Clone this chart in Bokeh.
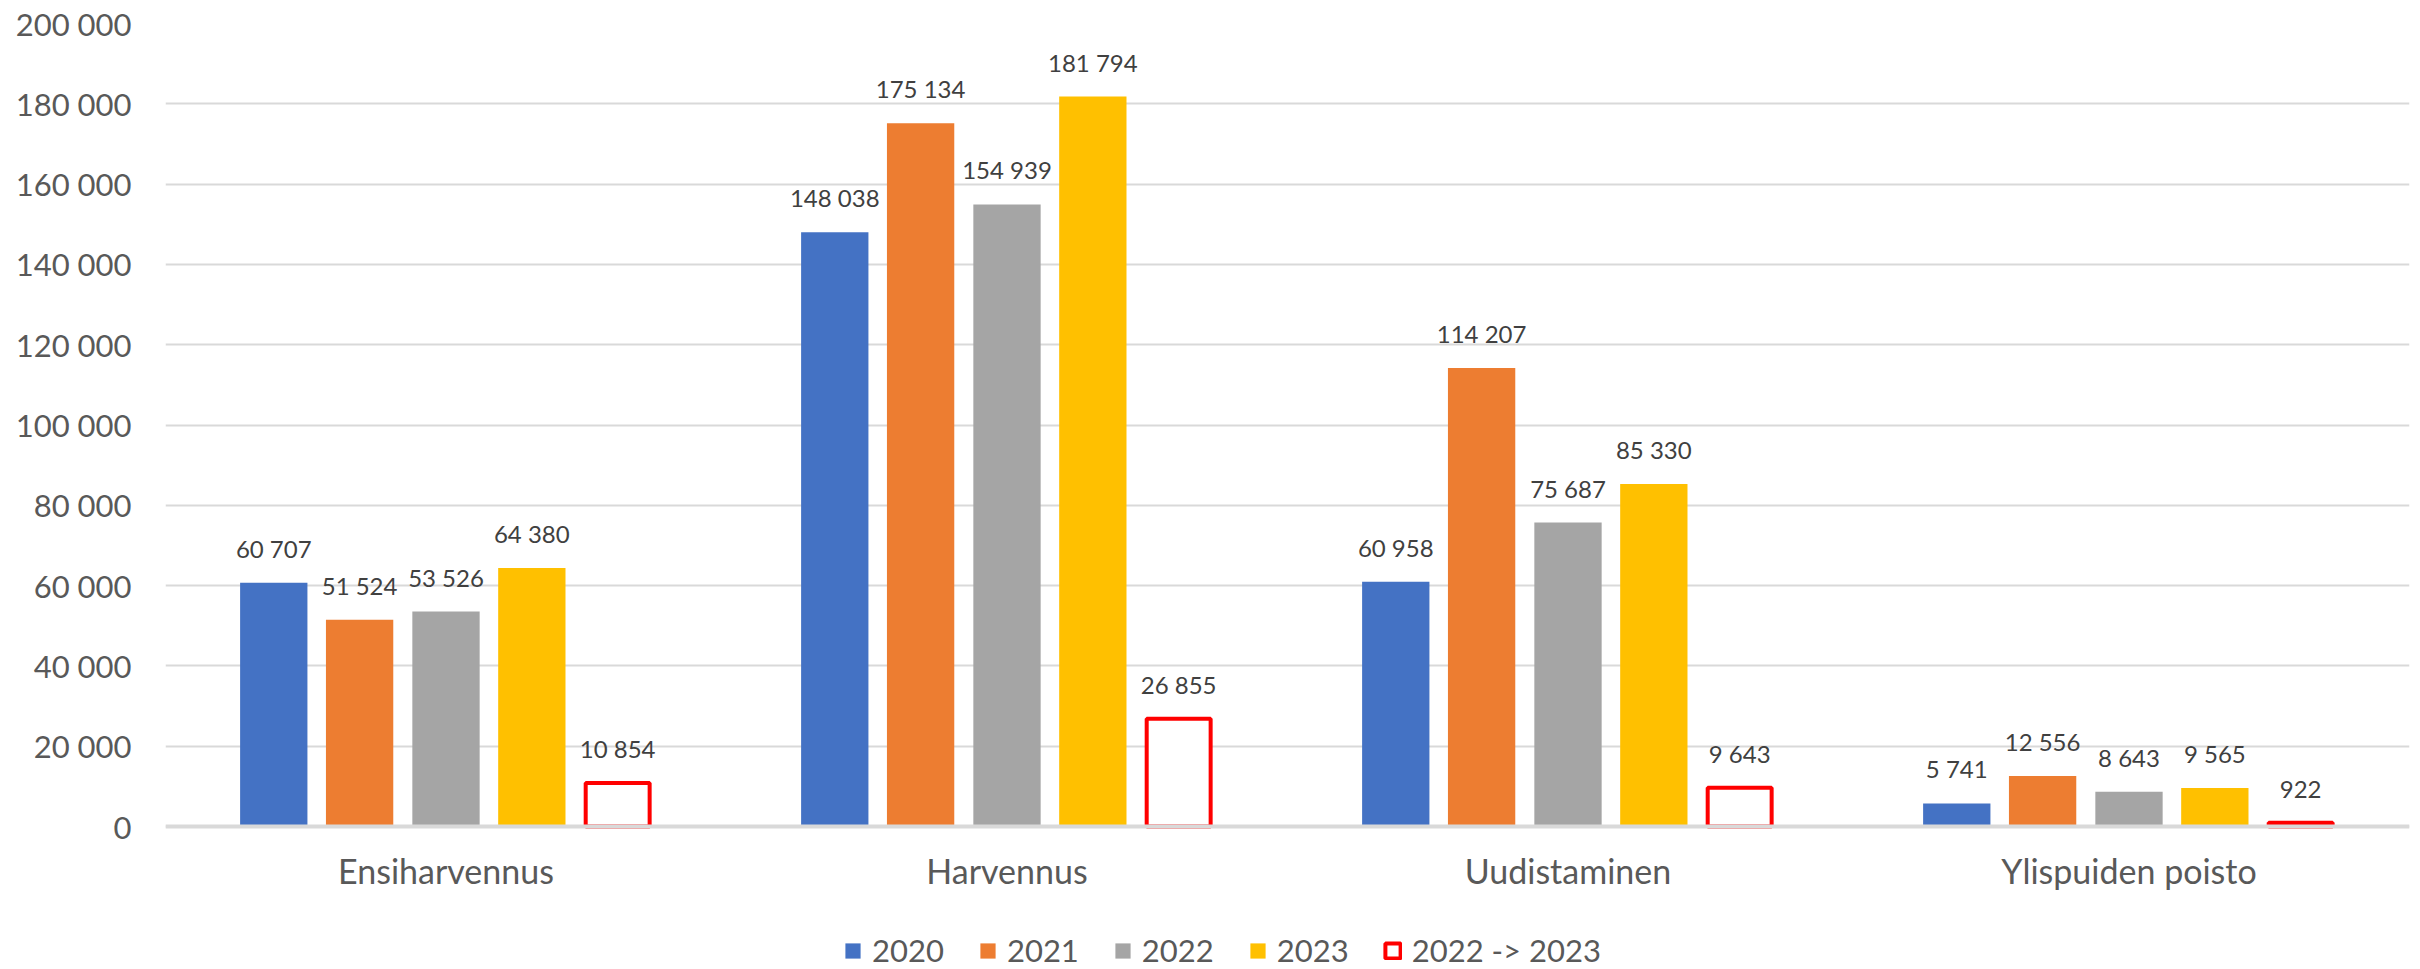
from bokeh.plotting import figure
from bokeh.models import ColumnDataSource, FactorRange, Range1d, FixedTicker, CustomJSTickFormatter, LabelSet, Legend, LegendItem, Span
from bokeh.transform import dodge
from bokeh.core.properties import value
from bokeh.embed import file_html
from bokeh.resources import INLINE

categories = ["Ensiharvennus", "Harvennus", "Uudistaminen", "Ylispuiden poisto"]
v2020 = [60707, 148038, 60958, 5741]
v2021 = [51524, 175134, 114207, 12556]
v2022 = [53526, 154939, 75687, 8643]
v2023 = [64380, 181794, 85330, 9565]
vdiff = [10854, 26855, 9643, 922]
series_names = ["2020", "2021", "2022", "2023", "2022 -> 2023"]
y_ticks = [0, 20000, 40000, 60000, 80000, 100000, 120000, 140000, 160000, 180000, 200000]
y_max = 200000

FONT = "Lato"

W, H = 2420, 969
TOP = 23          # frame top (px)
ZERO = 826        # pixel row of value 0
frame_h = H - TOP
y_start = -y_max * (frame_h - (ZERO - TOP)) / (ZERO - TOP)

p = figure(x_range=FactorRange(*categories, range_padding=0), y_range=Range1d(y_start, y_max),
           width=W, height=H, output_backend="svg", toolbar_location=None,
           min_border_left=165, min_border_right=11, min_border_top=TOP, min_border_bottom=0)
p.outline_line_color = None
p.background_fill_color = "white"
p.border_fill_color = "white"

p.xgrid.grid_line_color = None
p.ygrid.grid_line_color = "#d9d9d9"
p.ygrid.grid_line_width = 2
p.xaxis.visible = False

p.yaxis.ticker = FixedTicker(ticks=y_ticks)
p.yaxis.formatter = CustomJSTickFormatter(code=r"return tick.toString().replace(/\B(?=(\d{3})+(?!\d))/g, ' ');")
p.yaxis.axis_line_color = None
p.yaxis.major_tick_line_color = None
p.yaxis.minor_tick_line_color = None
p.yaxis.major_tick_in = 0
p.yaxis.major_tick_out = 0
p.yaxis.major_label_standoff = 34
p.yaxis.major_label_text_font = FONT
p.yaxis.major_label_text_font_size = "31px"
p.yaxis.major_label_text_color = "#595959"

def fmt(v):
    return f"{v:,}".replace(",", " ")

all_vals = [v2020, v2021, v2022, v2023, vdiff]
fills = ["#4472C4", "#ED7D31", "#A5A5A5", "#FFC000", "white"]
lines = [None, None, None, None, "#FF0000"]
offsets = [-0.307, -0.154, 0.0, 0.153, 0.306]
width = 0.12

items = []
for vals, name, fc, lc, off in zip(all_vals, series_names, fills, lines, offsets):
    src = ColumnDataSource(dict(cat=categories, v=vals, lbl=[fmt(x) for x in vals]))
    if lc is None:
        r = p.vbar(x=dodge("cat", off, range=p.x_range), top="v", bottom=0, width=width,
                   source=src, fill_color=fc, line_color=None)
    else:
        r = p.vbar(x=dodge("cat", off, range=p.x_range), top="v", bottom=0, width=width - 0.006,
                   source=src, fill_color=fc, line_color=lc, line_width=4)
    items.append(LegendItem(label=name, renderers=[r]))
    labels = LabelSet(x=dodge("cat", off, range=p.x_range), y="v", text="lbl", source=src,
                      text_align="center", text_baseline="alphabetic", y_offset=25,
                      text_font=value(FONT), text_font_size="24px", text_color="#404040")
    p.add_layout(labels)

# horizontal category axis line drawn over the bars' bottoms
p.add_layout(Span(location=0, dimension="width", line_color="#d9d9d9", line_width=4, level="overlay"))

# category labels under the zero line
cat_src = ColumnDataSource(dict(cat=categories, y=[0] * len(categories)))
cat_labels = LabelSet(x="cat", y="y", text="cat", source=cat_src, text_align="center",
                      text_baseline="middle", y_offset=-44, text_font=value(FONT),
                      text_font_size="34px", text_color="#595959")
p.add_layout(cat_labels)

legend = Legend(items=items, orientation="horizontal", location=(678, 0),
                glyph_width=19, glyph_height=19, label_standoff=10, spacing=34,
                padding=0, margin=0, border_line_color=None, background_fill_alpha=0,
                label_text_font=FONT, label_text_font_size="31px", label_text_color="#595959")
p.add_layout(legend, "center")

open("out.html", "w").write(file_html(p, INLINE))
